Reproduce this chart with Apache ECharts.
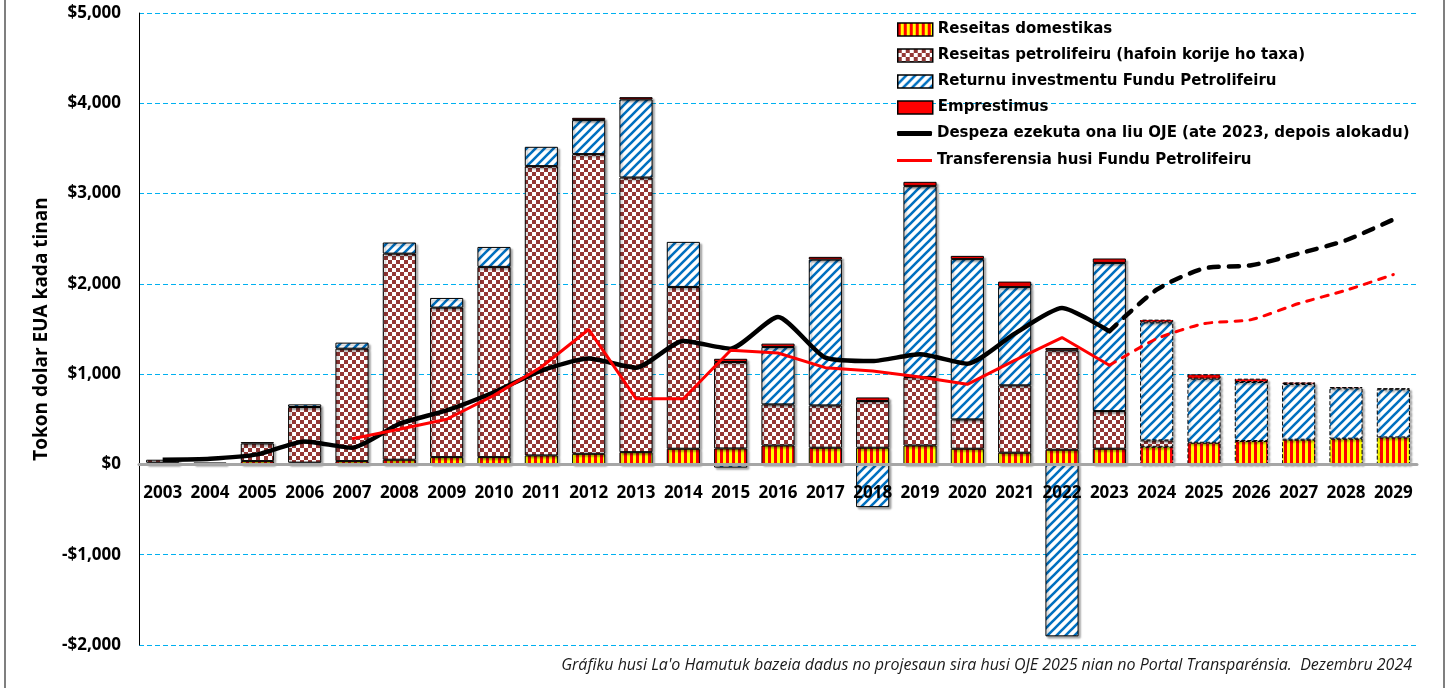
<!DOCTYPE html>
<html>
<head>
<meta charset="utf-8">
<script src="https://cdn.jsdelivr.net/npm/echarts@6/dist/echarts.min.js"></script>
<style>
html,body{margin:0;padding:0;background:#fff;}
#chart{width:1448px;height:688px;}
</style>
</head>
<body>
<div id="chart"></div>
<script>
const years = ['2003','2004','2005','2006','2007','2008','2009','2010','2011','2012','2013','2014','2015','2016','2017','2018','2019','2020','2021','2022','2023','2024','2025','2026','2027','2028','2029'];
const domestic = [20,22,37,20,37,52,81,81,100,118,136,174,177,210,185,185,210,174,130,163,174,195,240,259,274,285,299];
const petroleum = [32,null,195,616,1245,2283,1656,2107,3204,3319,3042,1792,958,455,469,517,758,325,746,1101,417,71,null,null,null,null,null];
const fundReturn = [null,null,null,29,67,123,107,221,214,377,865,499,-35,636,1615,-473,2114,1775,1090,-1904,1641,1308,710,654,617,558,533];
const loans = [null,null,15,null,null,null,null,null,null,25,25,null,35,37,30,40,48,36,59,26,49,30,48,37,18,14,11];
const spending = [52,63,111,255,185,450,599,800,1040,1172,1072,1367,1282,1633,1183,1145,1220,1116,1449,1733,1475,null,null,null,null,null,null];
const spendingFuture = [null,null,null,null,null,null,null,null,null,null,null,null,null,null,null,null,null,null,null,null,1475,1935,2170,2206,2336,2483,2713];
const transfer = [null,null,null,null,285,390,500,765,1079,1495,728,728,1264,1234,1072,1035,968,887,1153,1405,1098,null,null,null,null,null,null];
const transferFuture = [null,null,null,null,null,null,null,null,null,null,null,null,null,null,null,null,null,null,null,null,1098,1393,1560,1604,1782,1929,2103];
const yTicks = {min:-2000, max:5000, interval:1000};
const firstProjection = '2024';

const names = ['Reseitas domestikas','Reseitas petrolifeiru (hafoin korije ho taxa)','Returnu investmentu Fundu Petrolifeiru','Emprestimus','Despeza ezekuta ona liu OJE (ate 2023, depois alokadu)','Transferensia husi Fundu Petrolifeiru'];

function makeCanvas(w,h,draw){const c=document.createElement('canvas');c.width=w;c.height=h;draw(c.getContext('2d'));return c;}
const stripeV = makeCanvas(6,6,ctx=>{ctx.fillStyle='#FFFF00';ctx.fillRect(0,0,6,6);ctx.fillStyle='#FF0000';ctx.fillRect(0,0,3,6);});
const checker = makeCanvas(8,8,ctx=>{ctx.fillStyle='#ffffff';ctx.fillRect(0,0,8,8);ctx.fillStyle='#953735';ctx.fillRect(0,0,4,4);ctx.fillRect(4,4,4,4);});
const diag = makeCanvas(9,9,ctx=>{ctx.fillStyle='#ffffff';ctx.fillRect(0,0,9,9);ctx.strokeStyle='#0070C0';ctx.lineWidth=2.6;ctx.beginPath();
  ctx.moveTo(-2,2);ctx.lineTo(2,-2);ctx.moveTo(-1,10);ctx.lineTo(10,-1);ctx.moveTo(7,11);ctx.lineTo(11,7);ctx.stroke();});

const projStart = years.indexOf(firstProjection);
function barData(arr){
  return arr.map((v,i)=> i>=projStart ? {value:v, itemStyle:{borderType:'dashed'}} : v);
}
const baseBar = {
  type:'bar', stack:'total', barWidth:'70%',
  itemStyle:{borderColor:'#000',borderWidth:1,shadowColor:'rgba(0,0,0,0.35)',shadowBlur:2,shadowOffsetX:2,shadowOffsetY:2}
};
function bar(name,data,color){
  return Object.assign({},baseBar,{name:name,data:barData(data),itemStyle:Object.assign({},baseBar.itemStyle,{color:color})});
}
const fontFam = '"Open Sans", sans-serif';
const legendFont = {fontFamily:'"DejaVu Sans", sans-serif',fontWeight:'bold',fontSize:15,color:'#000'};
const chart = echarts.init(document.getElementById('chart'), null, {renderer:'canvas'});
const fmt = v => { const a = Math.abs(v).toLocaleString('en-US'); return (v<0?'-$':'$')+a; };
chart.setOption({
  animation:false,
  grid:{left:139,right:31,top:13,bottom:43,containLabel:false},
  legend:[
    {orient:'vertical', left:897, top:22, padding:0, itemWidth:35, itemHeight:13, itemGap:11, align:'left',
     textStyle:legendFont, icon:'rect', itemStyle:{borderColor:'#000',borderWidth:1.5,shadowBlur:0,shadowOffsetX:0,shadowOffsetY:0},
     data:[names[0],names[1],names[2],names[3]]},
    {orient:'vertical', left:897, top:126, padding:0, itemWidth:35, itemHeight:5, align:'left',
     textStyle:legendFont, icon:'roundRect', itemStyle:{borderWidth:0}, data:[names[4]]},
    {orient:'vertical', left:897, top:153, padding:0, itemWidth:35, itemHeight:3, align:'left',
     textStyle:legendFont, icon:'rect', itemStyle:{borderWidth:0}, data:[names[5]]}
  ],
  xAxis:{
    type:'category', data:years, offset:-181, z:10,
    axisTick:{show:false},
    axisLine:{onZero:false,lineStyle:{color:'#a6a6a6',width:3}},
    axisLabel:{interval:0,margin:21,fontFamily:fontFam,fontWeight:'bold',fontSize:17,color:'#000'},
    splitLine:{show:false}
  },
  yAxis:{
    type:'value', min:yTicks.min, max:yTicks.max, interval:yTicks.interval,
    name:'Tokon dolar EUA kada tinan', nameLocation:'middle', nameGap:86,
    nameTextStyle:{fontFamily:fontFam,fontWeight:'bold',fontSize:19,color:'#000'},
    axisLine:{show:true,lineStyle:{color:'#000',width:1}},
    axisTick:{show:false},
    axisLabel:{formatter:fmt,margin:18,fontFamily:fontFam,fontWeight:'bold',fontSize:17,color:'#000'},
    splitLine:{show:true,lineStyle:{color:'#00B0F0',type:[5,3],width:1}}
  },
  series:[
    bar(names[0],domestic,{image:stripeV,repeat:'repeat'}),
    bar(names[1],petroleum,{image:checker,repeat:'repeat'}),
    bar(names[2],fundReturn,{image:diag,repeat:'repeat'}),
    bar(names[3],loans,'#FF0000'),
    {name:names[4],type:'line',data:spending,smooth:0.2,symbol:'none',z:5,
      lineStyle:{color:'#000',width:4.5},itemStyle:{color:'#000'}},
    {name:names[4]+' ',type:'line',data:spendingFuture,smooth:0.25,symbol:'none',z:5,
      lineStyle:{color:'#000',width:4.5,type:[10,10],cap:'round'},itemStyle:{color:'#000'}},
    {name:names[5],type:'line',data:transfer,symbol:'none',z:6,
      lineStyle:{color:'#FF0000',width:3},itemStyle:{color:'#FF0000'}},
    {name:names[5]+' ',type:'line',data:transferFuture,smooth:0.2,symbol:'none',z:6,
      lineStyle:{color:'#FF0000',width:3,type:[7,8],cap:'round'},itemStyle:{color:'#FF0000'}}
  ],
  graphic:[
    {type:'line',shape:{x1:5,y1:0,x2:5,y2:688},style:{stroke:'#7f7f7f',lineWidth:2},silent:true},
    {type:'line',shape:{x1:1444,y1:0,x2:1444,y2:688},style:{stroke:'#7f7f7f',lineWidth:2},silent:true},
    {type:'text',right:36,top:657,silent:true,
      style:{text:"Gráfiku husi La'o Hamutuk bazeia dadus no projesaun sira husi OJE 2025 nian no Portal Transparénsia.  Dezembru 2024",
        fontFamily:fontFam,fontStyle:'italic',fontSize:16,fill:'#1a1a1a'}}
  ]
});
</script>
</body>
</html>
